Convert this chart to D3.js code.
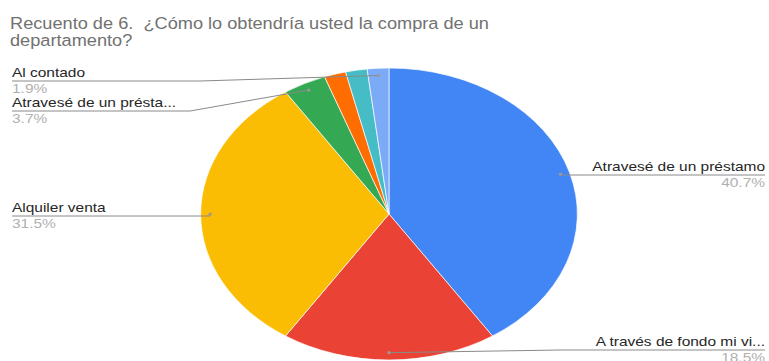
<!DOCTYPE html>
<html>
<head>
<meta charset="utf-8">
<script src="https://cdn.jsdelivr.net/npm/d3@7"></script>
<style>
  html, body { margin: 0; padding: 0; background: #fff; }
  svg { display: block; font-family: "Liberation Sans", Arial, sans-serif; }
  .title { white-space: pre; }
</style>
</head>
<body>
<svg id="chart" width="769" height="361"></svg>
<script>
// Survey answers: how the respondent would finance buying an apartment
const categories = [
  "Atravesé de un préstamo",
  "A través de fondo mi vi...",
  "Alquiler venta",
  "Atravesé de un présta...",
  "Otro",
  "No sabe",
  "Al contado"
];
const counts = [22, 10, 17, 2, 1, 1, 1];
const colors = ["#4285F4", "#EA4335", "#FBBC04", "#34A853", "#FF6D01", "#46BDC6", "#7BAAF7"];
const titleLines = ["Recuento de 6.  ¿Cómo lo obtendría usted la compra de un", "departamento?"];

// Which slices carry an outside label, and where the label row sits
const labelRows = [
  { index: 0, side: "right", y: 175, elbow: null },
  { index: 1, side: "right", y: 350, elbow: 560 },
  { index: 2, side: "left",  y: 216, elbow: null },
  { index: 3, side: "left",  y: 111, elbow: 190 },
  { index: 6, side: "left",  y: 81,  elbow: 200 }
];

const W = 769, H = 361;
const SX = 1.29;             // horizontal stretch of the plot
const cx = 389, cy = 214, r = 146;
const leftX = 12, rightX = 765;

const svg = d3.select("#chart");

// Title, two lines, slightly widened
const titleG = svg.append("g")
  .attr("transform", "translate(10,0) scale(1.07,1)");
titleLines.forEach((t, i) => {
  titleG.append("text")
    .attr("class", "title")
    .attr("x", 0).attr("y", 29 + i * 17.5)
    .attr("font-size", 17)
    .attr("fill", "#717171")
    .text(t);
});

const total = d3.sum(counts);
const pct = d3.format(".1%");

const pie = d3.pie().sort(null).value(d => d);
const arcs = pie(counts);
const arc = d3.arc().innerRadius(0).outerRadius(r);

const pieG = svg.append("g")
  .attr("transform", `translate(${cx},${cy}) scale(${SX},1)`);

pieG.selectAll("path")
  .data(arcs)
  .join("path")
  .attr("d", arc)
  .attr("fill", (d, i) => colors[i])
  .attr("stroke", "#ffffff")
  .attr("stroke-width", 0.6);

// Anchor point inside each labelled slice
function anchor(d) {
  const mid = (d.startAngle + d.endAngle) / 2;
  const rr = r * 0.95;
  return [cx + SX * rr * Math.sin(mid), cy - rr * Math.cos(mid)];
}

const labels = svg.append("g");
labelRows.forEach(row => {
  const d = arcs[row.index];
  const [ax, ay] = anchor(d);
  const edgeX = row.side === "left" ? leftX : rightX;
  const elbowX = row.elbow == null ? ax : row.elbow;

  labels.append("path")
    .attr("d", d3.line()([[edgeX, row.y], [elbowX, row.y], [ax, ay]]))
    .attr("fill", "none")
    .attr("stroke", "#8a8a8a")
    .attr("stroke-width", 1);

  labels.append("circle")
    .attr("cx", ax).attr("cy", ay).attr("r", 1.6)
    .attr("fill", "#9a9a9a");

  const anchorPos = row.side === "left" ? "start" : "end";
  labels.append("text")
    .attr("transform", `translate(${edgeX},${row.y - 4}) scale(${SX},1)`)
    .attr("text-anchor", anchorPos)
    .attr("font-size", 12)
    .attr("fill", "#262626")
    .text(categories[row.index]);

  labels.append("text")
    .attr("transform", `translate(${edgeX},${row.y + 12}) scale(${SX},1)`)
    .attr("text-anchor", anchorPos)
    .attr("font-size", 12)
    .attr("fill", "#b0b0b0")
    .text(pct(counts[row.index] / total));
});
</script>
</body>
</html>
